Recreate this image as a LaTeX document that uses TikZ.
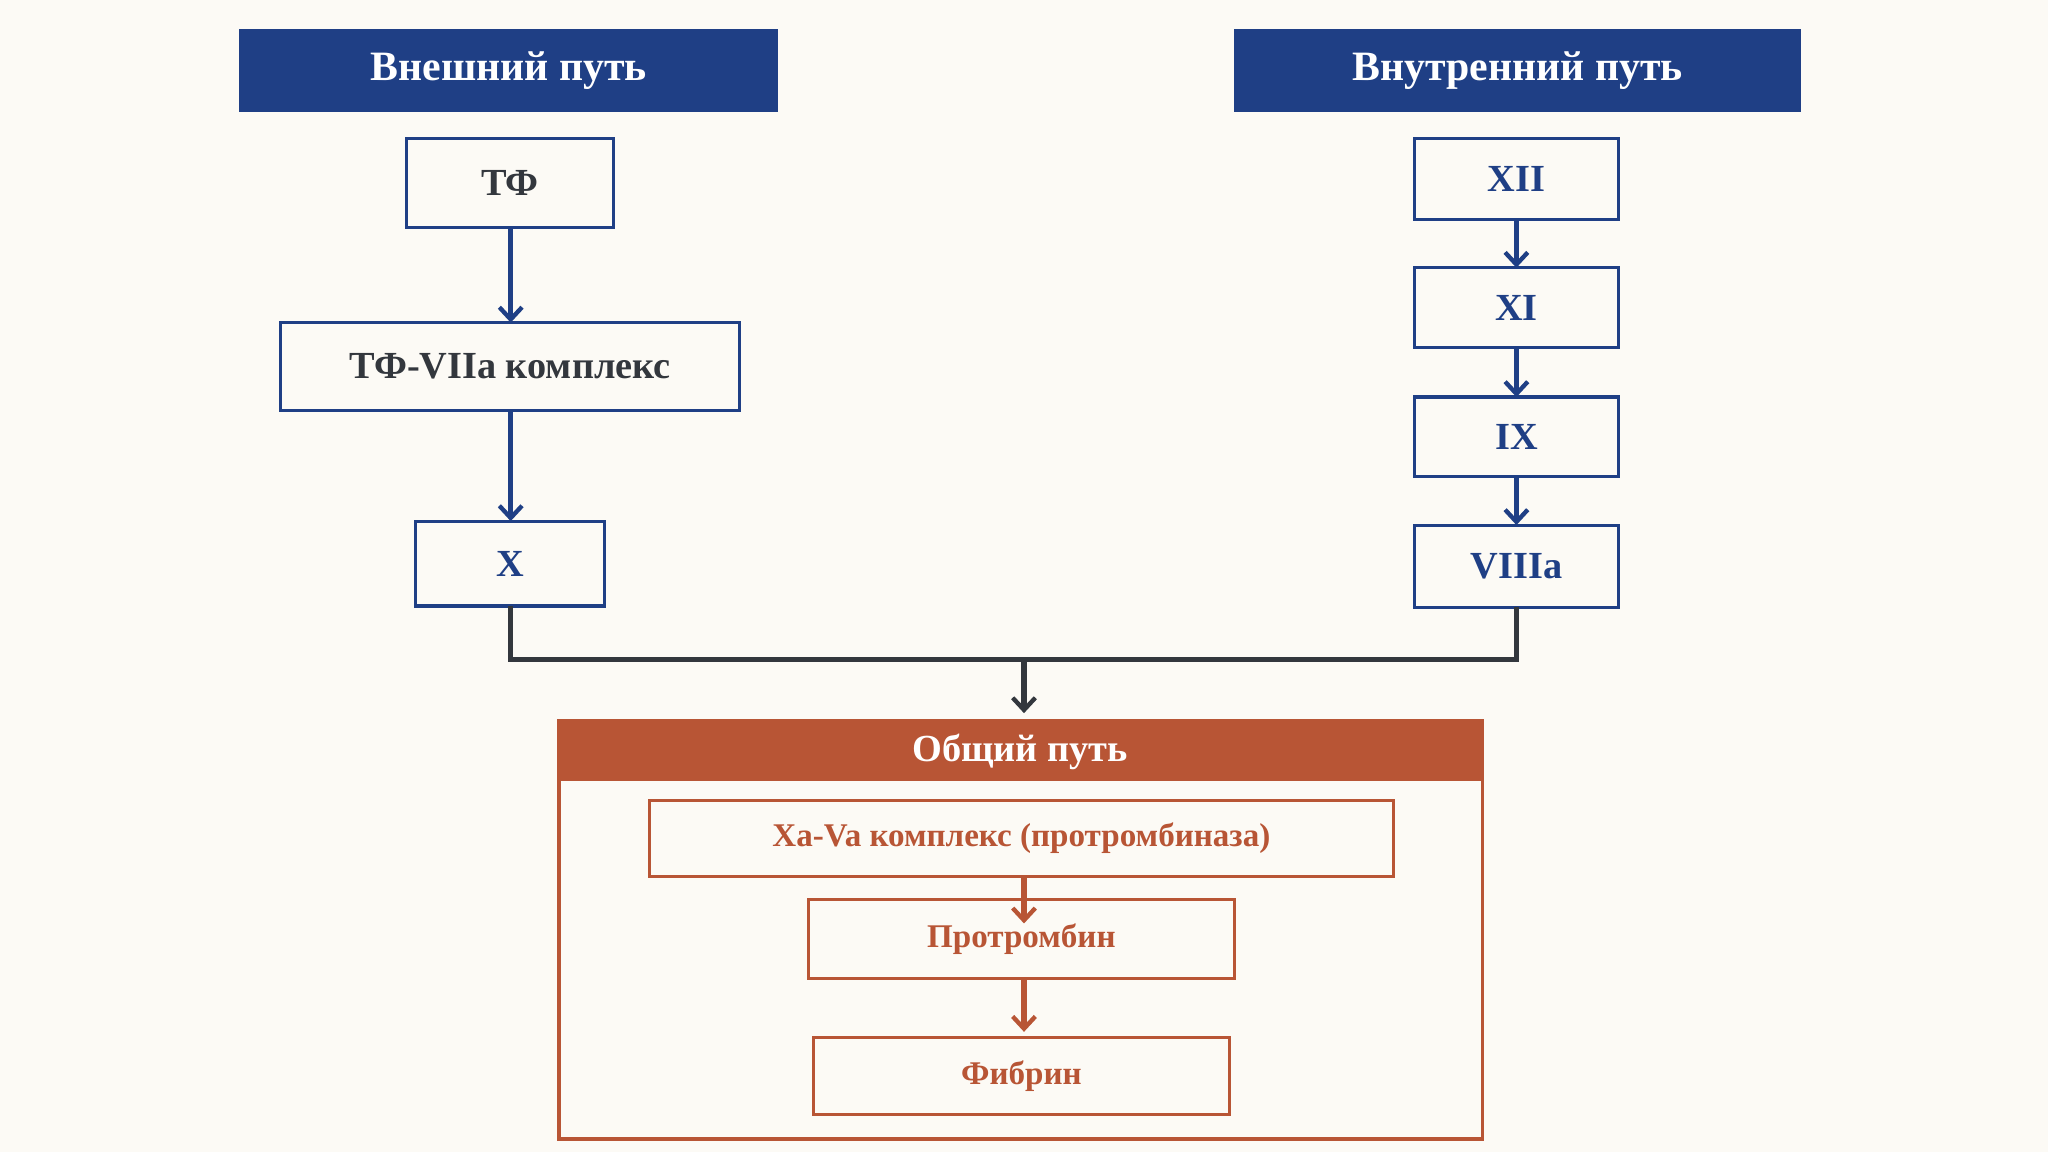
\documentclass[tikz,border=0pt]{standalone}
\usepackage{fontspec}
\setmainfont{Liberation Serif}
\usetikzlibrary{arrows.meta}
\definecolor{navy}{HTML}{1F3F85}
\definecolor{rust}{HTML}{B85535}
\definecolor{dk}{HTML}{33373D}
\definecolor{bg}{HTML}{FCFAF5}
\begin{document}
\begin{tikzpicture}[x=0.75pt,y=-0.75pt,
  hdr/.style={fill=navy,text=white,font=\bfseries\fontsize{24}{28}\selectfont},
  bx/.style={draw=navy,line width=1.8pt,fill=bg},
  rb/.style={draw=rust,line width=1.8pt,fill=bg},
  lb/.style={font=\bfseries\fontsize{22}{26}\selectfont},
  rl/.style={font=\bfseries\fontsize{19}{23}\selectfont,text=rust},
  arr/.style={line width=3pt,-{Straight Barb[length=7pt,width=13pt,line width=2.5pt]}}]
\fill[bg] (0,0) rectangle (1568,882);
\useasboundingbox (0,0) rectangle (1568,882);
% headers
\fill[navy] (183,22) rectangle (596,86);
\node[text=white,font=\bfseries\fontsize{24}{28}\selectfont] (h1) at (389.5,54) {Внешний путь};
\fill[navy] (945,22) rectangle (1379,86);
\node[text=white,font=\bfseries\fontsize{24}{28}\selectfont] (h2) at (1162,54) {Внутренний путь};
% left
\draw[bx] (311,106) rectangle (470,174); \node[lb,text=dk] (tf) at (390.5,140) {ТФ};
\coordinate (tfb) at (391,174);
\draw[bx] (215,247) rectangle (566,314); \node[lb,text=dk] (tfc) at (390.5,280.5) {ТФ-VIIa комплекс};
\coordinate (tfct) at (391,247); \coordinate (tfcb) at (391,314);
\draw[bx] (318,399) rectangle (463,464); \node[lb,text=navy] (x) at (390.5,431.5) {X};
\coordinate (xt) at (391,399); \coordinate (xb) at (391,464);
\draw[arr,navy] (tfb) -- (tfct);
\draw[arr,navy] (tfcb) -- (xt);
% right
\foreach \n/\t/\a/\b in {a/XII/106/168,b/XI/205/266,c/IX/304/365,d/VIIIa/402/465}{
  \draw[bx] (1083,\a) rectangle (1239,\b);
  \node[lb,text=navy] (\n) at (1161,{(\a+\b)/2}) {\t};
  \coordinate (\n t) at (1161,\a); \coordinate (\n b) at (1161,\b);
}
\draw[arr,navy] (ab) -- (bt);
\draw[arr,navy] (bb) -- (ct);
\draw[arr,navy] (cb) -- (dt);
% merge
\coordinate (m) at (784,505); \coordinate (gt) at (784,546);
\draw[dk,line width=3pt] (xb) |- (m) -| (db);
\draw[arr,dk] (m) -- (gt);
% common
\draw[rb] (428,552) rectangle (1135,872);
\fill[rust] (428,552) rectangle (1135,598);
\node[text=white,font=\bfseries\fontsize{22}{26}\selectfont] (g) at (781,576) {Общий путь};
\draw[rb] (497,613) rectangle (1067,671); \node[rl] (xa) at (782,642) {Xa-Va комплекс (протромбиназа)};
\draw[rb] (619,689) rectangle (945,749); \node[rl] (pt) at (782,719) {Протромбин};
\draw[rb] (623,794) rectangle (941,853); \node[rl] (fb) at (782,824) {Фибрин};
\coordinate (xab) at (784,671); \coordinate (ptt) at (784,707);
\coordinate (ptb) at (784,749); \coordinate (fbt) at (784,790);
\draw[arr,rust] (xab) -- (ptt);
\draw[arr,rust] (ptb) -- (fbt);
\end{tikzpicture}
\end{document}
